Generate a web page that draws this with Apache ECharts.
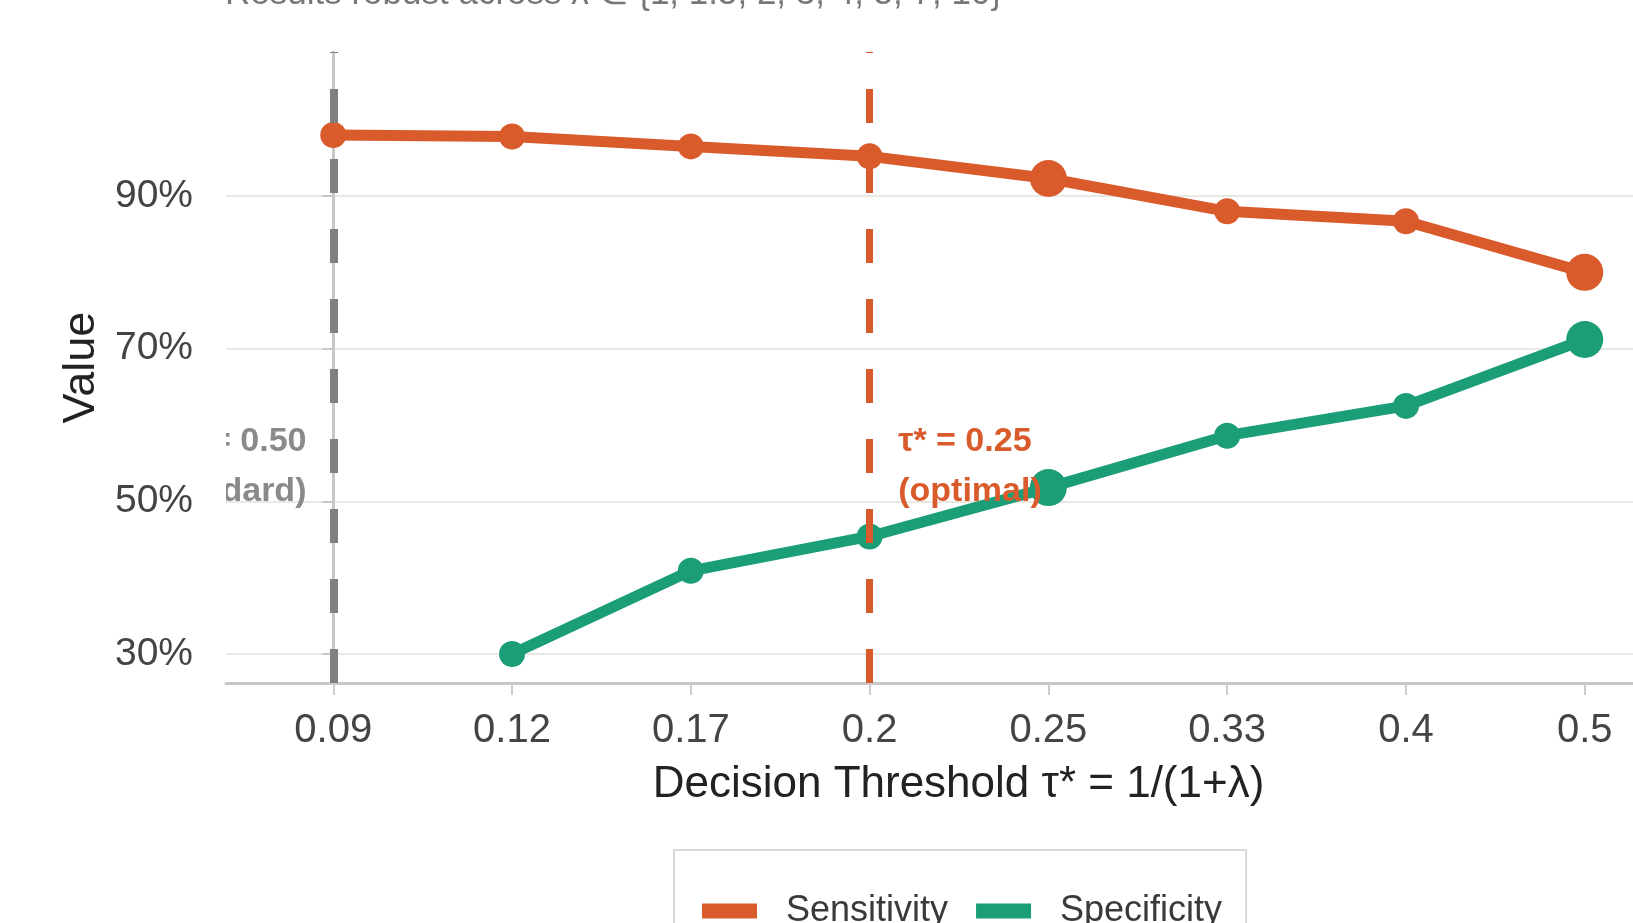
<!DOCTYPE html>
<html>
<head>
<meta charset="utf-8">
<script src="https://cdn.jsdelivr.net/npm/echarts@6/dist/echarts.min.js"></script>
<style>
html,body{margin:0;padding:0;background:#fff;}
#chart{width:1633px;height:923px;}
</style>
</head>
<body>
<div id="chart"></div>
<script>
const categories = ['0.09', '0.12', '0.17', '0.2', '0.25', '0.33', '0.4', '0.5'];
const sensitivity = [98.0, 97.8, 96.5, 95.2, 92.3, 88.0, 86.7, 80.0];
const specificity = [null, 30.0, 40.9, 45.4, 51.8, 58.6, 62.5, 71.2];
const highlighted = ['0.25', '0.5'];
const yTicks = [30, 50, 70, 90];
const standardLineAt = '0.09';
const optimalLineAt = '0.2';
const annotations = [
  { at: '0.09', offset: -0.15, y: 54.6, text: 'τ = 0.50\n(standard)', color: '#8a8a8a', align: 'right' },
  { at: '0.2', offset: 0.16, y: 54.6, text: 'τ* = 0.25\n(optimal)', color: '#D95A2B', align: 'left' }
];

const ORANGE = '#D95A2B';
const GREEN = '#1B9E77';
const FONT = '"Liberation Sans", Arial, Helvetica, sans-serif';

function toPairs(vals) {
  const out = [];
  vals.forEach((v, i) => { if (v !== null) out.push([i, v]); });
  return out;
}
function sizeFn(val) {
  return highlighted.indexOf(categories[val[0]]) >= 0 ? 37 : 26;
}

const chart = echarts.init(document.getElementById('chart'), null, { renderer: 'canvas' });
chart.setOption({
  backgroundColor: '#ffffff',
  animation: false,
  textStyle: { fontFamily: FONT },
  title: {
    text: 'Results robust across λ ∈ {1, 1.5, 2, 3, 4, 5, 7, 10}',
    left: 225,
    top: -23,
    padding: 0,
    textStyle: { fontSize: 35, fontWeight: 'normal', color: '#777777', fontFamily: FONT }
  },
  legend: {
    left: 674,
    top: 850,
    orient: 'horizontal',
    padding: [43, 24, 60, 28],
    borderColor: '#d9d9d9',
    borderWidth: 2,
    backgroundColor: '#ffffff',
    itemWidth: 55,
    itemHeight: 15,
    itemGap: 28,
    icon: 'rect',
    textStyle: { fontSize: 36, color: '#3a3a3a', fontFamily: FONT, padding: [0, 0, 0, 24] },
    data: ['Sensitivity', 'Specificity']
  },
  grid: { left: 226, top: 52, right: 0, height: 631, containLabel: false },
  xAxis: {
    type: 'value',
    min: -0.6,
    max: 7.27,
    name: 'Decision Threshold τ* = 1/(1+λ)',
    nameLocation: 'middle',
    nameGap: 80,
    nameTextStyle: { fontSize: 44, color: '#222222', fontFamily: FONT, padding: [0, 0, 0, 58] },
    axisLine: { show: true, lineStyle: { color: '#c8c8c8', width: 3 } },
    axisTick: { show: true, length: 12, lineStyle: { color: '#cccccc', width: 2 }, customValues: categories.map((c, i) => i) },
    axisLabel: {
      customValues: categories.map((c, i) => i),
      formatter: v => categories[Math.round(v)],
      fontSize: 40, color: '#444444', margin: 28, fontFamily: FONT
    },
    splitLine: { show: false }
  },
  yAxis: {
    type: 'value',
    min: 26.2,
    max: 108.87,
    name: 'Value',
    nameLocation: 'middle',
    nameGap: 122,
    nameRotate: 90,
    nameTextStyle: { fontSize: 45, color: '#222222', fontFamily: FONT },
    axisLine: { show: true, lineStyle: { color: '#c8c8c8', width: 3 } },
    axisTick: { show: true, length: 11, lineStyle: { color: '#c8c8c8', width: 2 }, customValues: yTicks },
    axisLabel: {
      customValues: yTicks,
      formatter: v => v + '%',
      fontSize: 39, color: '#444444', margin: 33, fontFamily: FONT
    },
    splitLine: { show: true, lineStyle: { color: '#e8e8e4', width: 2 } }
  },
  series: [
    {
      name: 'Sensitivity',
      type: 'line',
      data: toPairs(sensitivity),
      color: ORANGE,
      lineStyle: { width: 11, color: ORANGE },
      itemStyle: { color: ORANGE },
      symbol: 'circle',
      symbolSize: sizeFn,
      showSymbol: true,
      z: 3
    },
    {
      name: 'Specificity',
      type: 'line',
      data: toPairs(specificity),
      color: GREEN,
      lineStyle: { width: 11, color: GREEN },
      itemStyle: { color: GREEN },
      symbol: 'circle',
      symbolSize: sizeFn,
      showSymbol: true,
      z: 3
    },
    {
      name: 'vlines',
      type: 'line',
      data: [],
      z: 5,
      markLine: {
        silent: true,
        symbol: 'none',
        label: { show: false },
        data: [
          { xAxis: categories.indexOf(standardLineAt), lineStyle: { color: '#808080', width: 8, type: [34, 36] } },
          { xAxis: categories.indexOf(optimalLineAt), lineStyle: { color: ORANGE, width: 7, type: [34, 36] } }
        ]
      }
    },
    {
      name: 'annotations',
      type: 'custom',
      clip: true,
      z: 6,
      data: annotations.map(a => [categories.indexOf(a.at) + a.offset, a.y]),
      renderItem: function (params, api) {
        const a = annotations[params.dataIndex];
        const p = api.coord([api.value(0), api.value(1)]);
        return {
          type: 'text',
          x: p[0],
          y: p[1],
          style: {
            text: a.text,
            fill: a.color,
            fontSize: 34,
            fontWeight: 'bold',
            fontFamily: FONT,
            align: a.align,
            verticalAlign: 'middle',
            lineHeight: 50
          }
        };
      }
    }
  ]
});
</script>
</body>
</html>
